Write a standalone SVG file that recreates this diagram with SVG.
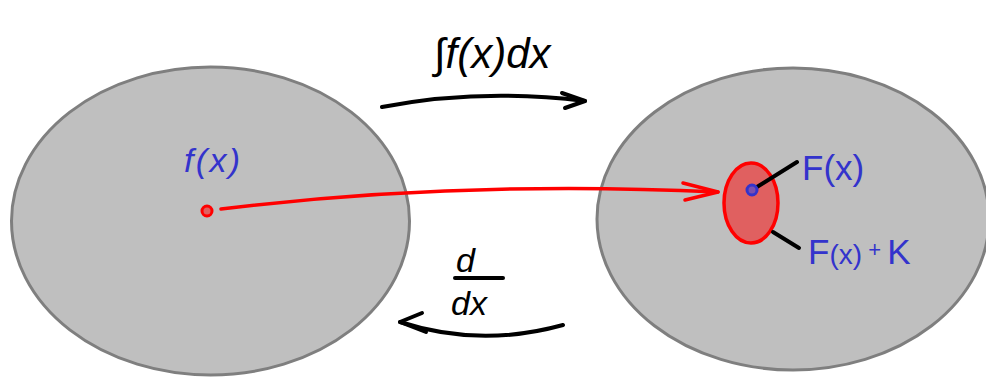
<svg xmlns="http://www.w3.org/2000/svg" width="986" height="377" viewBox="0 0 986 377">
<style>
.set{fill:#bfbfbf;stroke:#7f7f7f;stroke-width:3}
.blk{fill:none;stroke:#000;stroke-width:4;stroke-linecap:round;stroke-linejoin:round}
.red{fill:none;stroke:#ff0000;stroke-width:3.5;stroke-linecap:round;stroke-linejoin:round}
.lbl{font-family:"Liberation Sans",Arial,sans-serif;fill:#000}
.blue{font-family:"Liberation Sans",Arial,sans-serif;fill:#3333cc}
</style>
<rect width="986" height="377" fill="#fff"/>
<g id="left-set">
<ellipse class="set" cx="210.5" cy="221" rx="199" ry="154"/>
<text class="blue" x="184" y="172" font-size="34" font-style="italic" textLength="56">f(x)</text>
<circle cx="207" cy="211" r="5" fill="#e06060" stroke="#ff0000" stroke-width="3"/>
</g>
<g id="right-set">
<ellipse class="set" cx="793" cy="219" rx="196" ry="151"/>
<ellipse cx="751" cy="203" rx="27" ry="40" fill="#e06060" stroke="#ff0000" stroke-width="3.5"/>
<line class="blk" x1="752" y1="190" x2="797" y2="162" stroke-width="3"/>
<line class="blk" x1="773" y1="232" x2="799" y2="248" stroke-width="3"/>
<circle cx="752" cy="190" r="5" fill="#7a4fb0" stroke="#3333cc" stroke-width="3"/>
<text class="blue" x="802" y="180" font-size="35">F(x)</text>
<text class="blue" x="808" y="264" font-size="35">F<tspan font-size="28">(x)</tspan><tspan font-size="22" dy="-7"> + </tspan><tspan dy="7">K</tspan></text>
</g>
<g id="connectors">
<path class="blk" d="M382,107 Q480,88 585,101"/>
<path class="blk" d="M562,93 L585,101 L565,108"/>
<path class="blk" d="M563,325 Q480,348 400,322"/>
<path class="blk" d="M422,313 L400,322 L426,332"/>
<path class="red" d="M221,209 Q460,180 718,192"/>
<path class="red" d="M683,183 L718,192 L685,200"/>
</g>
<g id="labels">
<text class="lbl" x="434" y="68" font-size="42" font-style="italic">∫f(x)dx</text>
<text class="lbl" x="456" y="272" font-size="34" font-style="italic">d</text>
<line class="blk" x1="455" y1="278" x2="503" y2="278" stroke-width="3"/>
<text class="lbl" x="451" y="315" font-size="34" font-style="italic">dx</text>
</g>
</svg>
